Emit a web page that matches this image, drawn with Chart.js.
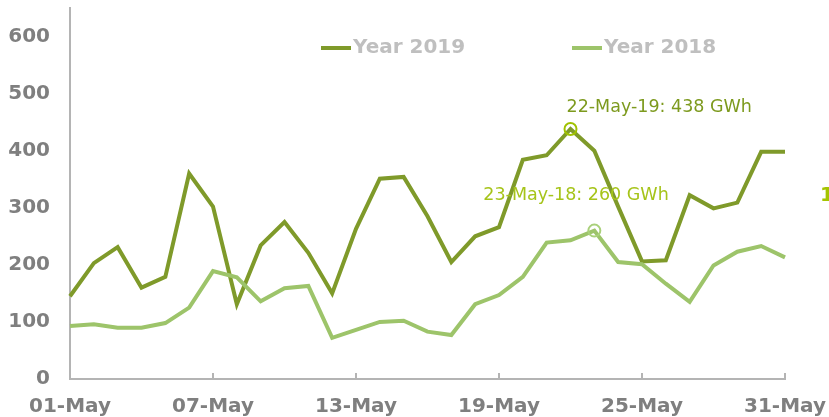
<!DOCTYPE html>
<html>
<head>
<meta charset="utf-8">
<script src="https://cdn.jsdelivr.net/npm/chart.js@4"></script>
<style>
  body { margin: 0; background: #fff; }
  #wrap { width: 829px; height: 417px; }
</style>
</head>
<body>
<div id="wrap"><canvas id="chart" width="829" height="417"></canvas></div>
<script>
// daily values, GWh
const days = ['01-May', '02-May', '03-May', '04-May', '05-May', '06-May', '07-May', '08-May',
  '09-May', '10-May', '11-May', '12-May', '13-May', '14-May', '15-May', '16-May', '17-May',
  '18-May', '19-May', '20-May', '21-May', '22-May', '23-May', '24-May', '25-May', '26-May',
  '27-May', '28-May', '29-May', '30-May', '31-May'];
const year2019 = [145, 203, 231, 160, 179, 360, 302, 131, 234, 275, 221, 150, 263, 351, 354, 285,
  205, 250, 266, 384, 392, 438, 400, 302, 206, 208, 322, 299, 309, 398, 398];
const year2018 = [93, 96, 90, 90, 98, 125, 189, 178, 136, 159, 163, 72, 86, 100, 102, 83,
  77, 131, 147, 179, 239, 243, 260, 205, 201, 167, 135, 199, 223, 233, 213];
const seriesNames = ['Year 2019', 'Year 2018'];
const xTickLabels = ['01-May', '07-May', '13-May', '19-May', '25-May', '31-May'];
const yTicks = [0, 100, 200, 300, 400, 500, 600];
const peakLabels = ['22-May-19: 438 GWh', '23-May-18: 260 GWh'];
const peakDays = ['22-May', '23-May'];

const col2019 = '#7f9a2a';
const col2018 = '#9dc46a';
const axisGrey = '#b4b4b4';
const labelGrey = '#7f7f7f';
const font = 'DejaVu Sans';

// x labels + tick marks pointing up into the plot, only on labelled days
const xAxisMarks = {
  id: 'xAxisMarks',
  afterDraw(chart) {
    const ctx = chart.ctx;
    const x = chart.scales.x;
    const bottom = chart.chartArea.bottom;
    ctx.save();
    ctx.strokeStyle = axisGrey;
    ctx.lineWidth = 2;
    ctx.fillStyle = labelGrey;
    ctx.font = 'bold 20px "' + font + '"';
    ctx.textAlign = 'center';
    ctx.textBaseline = 'middle';
    xTickLabels.forEach(lbl => {
      const px = x.getPixelForValue(days.indexOf(lbl));
      ctx.beginPath();
      ctx.moveTo(px, bottom - 6);
      ctx.lineTo(px, bottom);
      ctx.stroke();
      ctx.fillText(lbl, px, bottom + 28);
    });
    ctx.restore();
  }
};

// legend sits inside the plot area
const innerLegend = {
  id: 'innerLegend',
  afterDraw(chart) {
    const ctx = chart.ctx;
    const items = [[321, col2019], [572, col2018]];
    ctx.save();
    ctx.font = 'bold 20px "' + font + '"';
    ctx.textBaseline = 'middle';
    items.forEach(([x0, c], i) => {
      ctx.strokeStyle = c;
      ctx.lineWidth = 4;
      ctx.beginPath();
      ctx.moveTo(x0, 48);
      ctx.lineTo(x0 + 30, 48);
      ctx.stroke();
      ctx.fillStyle = '#bfbfbf';
      ctx.fillText(seriesNames[i], x0 + 32, 48);
    });
    ctx.restore();
  }
};

// peak markers and their callouts
const peaks = {
  id: 'peaks',
  afterDatasetsDraw(chart) {
    const ctx = chart.ctx;
    const x = chart.scales.x, y = chart.scales.y;
    const series = [year2019, year2018];
    const ringCol = ['#a0c200', '#a9d07a'];
    const textCol = ['#7d9a1e', '#a6c41a'];
    const offs = [[-4, -22], [-111, -35]];
    ctx.save();
    series.forEach((s, i) => {
      const idx = days.indexOf(peakDays[i]);
      const px = x.getPixelForValue(idx);
      const py = y.getPixelForValue(s[idx]);
      ctx.strokeStyle = ringCol[i];
      ctx.lineWidth = 2;
      ctx.beginPath();
      ctx.arc(px, py, 6, 0, Math.PI * 2);
      ctx.stroke();
      ctx.fillStyle = textCol[i];
      ctx.font = '17.5px "' + font + '"';
      ctx.textBaseline = 'middle';
      ctx.textAlign = 'left';
      ctx.fillText(peakLabels[i], px + offs[i][0], py + offs[i][1]);
    });
    // cut-off label at the right edge
    ctx.fillStyle = '#a5c400';
    ctx.font = 'bold 20px "' + font + '"';
    ctx.fillText('1', 820, 196);
    ctx.restore();
  }
};

new Chart(document.getElementById('chart'), {
  type: 'line',
  data: {
    labels: days,
    datasets: [{
      label: seriesNames[0],
      data: year2019,
      borderColor: col2019,
      backgroundColor: col2019,
      borderWidth: 4,
      pointRadius: 0,
      tension: 0,
      order: 2
    }, {
      label: seriesNames[1],
      data: year2018,
      borderColor: col2018,
      backgroundColor: col2018,
      borderWidth: 4,
      pointRadius: 0,
      tension: 0,
      order: 1
    }]
  },
  options: {
    responsive: false,
    animation: false,
    layout: { padding: { top: 8, right: 44, left: 0, bottom: 0 } },
    plugins: {
      legend: { display: false },
      tooltip: { enabled: false }
    },
    scales: {
      x: {
        offset: false,
        grid: { display: false, drawTicks: false },
        border: { display: true, color: axisGrey, width: 2 },
        afterFit: s => {
          s.height = 38;
          s.paddingLeft = 0; s.paddingRight = 0;
        },
        ticks: { display: false }
      },
      y: {
        min: 0,
        max: 650,
        grid: { display: false, drawTicks: false },
        border: { display: true, color: axisGrey, width: 2 },
        afterFit: s => {
          s.width = 70;
          s.paddingTop = 0; s.paddingBottom = 0;
        },
        afterBuildTicks: s => { s.ticks = yTicks.map(v => ({ value: v })); },
        ticks: {
          padding: 20,
          color: labelGrey,
          font: { family: font, size: 20, weight: 'bold' }
        }
      }
    }
  },
  plugins: [xAxisMarks, innerLegend, peaks]
});
</script>
</body>
</html>
